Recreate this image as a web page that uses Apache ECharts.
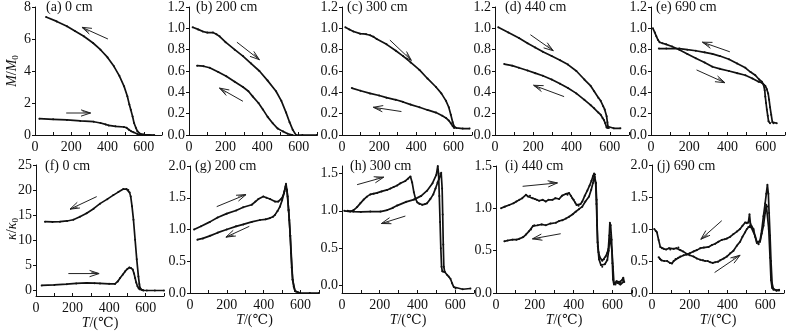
<!DOCTYPE html>
<html>
<head>
<meta charset="utf-8">
<script src="https://cdn.jsdelivr.net/npm/echarts@6/dist/echarts.min.js"></script>
<style>
html,body{margin:0;padding:0;background:#fff;}
#c{width:793px;height:332px;}
</style>
</head>
<body>
<div id="c"></div>
<script>
// ---------- data: [T (°C), value] ----------
const a_heat = [[24,1.02],[100,0.98],[176,0.94],[250,0.88],[324,0.83],[361,0.75],[390,0.66],[407,0.6],[444,0.54],[490,0.5],[505,0.45],[518,0.33],[530,0.24],[543,0.17],[565,0.06],[602,0.02],[657,0.0]];
const a_cool = [[61,7.37],[120,7.1],[176,6.8],[220,6.5],[269,6.17],[320,5.75],[361,5.33],[400,4.85],[435,4.29],[465,3.7],[491,3.04],[509,2.42],[520,1.9],[528,1.58],[538,1.15],[546,0.75],[556,0.45],[565,0.23],[583,0.06],[600,0.02]];
const b_heat = [[20,1.01],[50,0.99],[76,0.97],[100,0.96],[131,0.96],[150,0.945],[167,0.925],[200,0.87],[250,0.8],[295,0.74],[340,0.67],[385,0.6],[430,0.51],[476,0.41],[505,0.32],[531,0.21],[550,0.12],[567,0.05],[585,0.0],[620,0.0],[700,0.0]];
const b_cool = [[44,0.65],[80,0.645],[113,0.63],[160,0.59],[204,0.55],[250,0.5],[295,0.45],[325,0.41],[349,0.36],[380,0.3],[404,0.24],[430,0.17],[458,0.11],[485,0.06],[513,0.034],[540,0.012],[567,0.0]];
const c_heat = [[18,1.01],[40,0.99],[62,0.97],[98,0.95],[130,0.945],[151,0.935],[170,0.92],[187,0.9],[240,0.85],[290,0.79],[329,0.74],[370,0.68],[417,0.61],[460,0.53],[506,0.45],[535,0.39],[560,0.32],[575,0.26],[586,0.19],[596,0.12],[604,0.08],[616,0.066],[650,0.06],[687,0.06]];
const c_cool = [[53,0.44],[100,0.415],[151,0.39],[200,0.37],[240,0.35],[290,0.33],[329,0.31],[370,0.285],[417,0.26],[460,0.235],[506,0.21],[540,0.18],[560,0.16],[575,0.135],[586,0.11],[596,0.085],[604,0.066]];
const d_heat = [[17,1.01],[70,0.96],[125,0.91],[170,0.86],[210,0.82],[250,0.78],[296,0.74],[340,0.7],[381,0.66],[425,0.6],[467,0.52],[500,0.46],[518,0.41],[540,0.35],[552,0.32],[565,0.27],[573,0.24],[583,0.175],[587,0.12],[590,0.08],[595,0.066],[620,0.063],[655,0.063]];
const d_cool = [[48,0.665],[90,0.65],[125,0.63],[170,0.605],[210,0.58],[250,0.555],[296,0.52],[340,0.48],[381,0.44],[425,0.39],[467,0.33],[500,0.28],[518,0.25],[540,0.21],[552,0.19],[562,0.16],[569,0.14],[576,0.11],[583,0.07],[590,0.066]];
const e_heat = [[10,1.0],[20,0.96],[28,0.925],[37,0.89],[45,0.87],[60,0.86],[79,0.85],[110,0.83],[148,0.8],[190,0.76],[234,0.72],[280,0.68],[321,0.64],[360,0.62],[407,0.6],[450,0.58],[493,0.56],[530,0.53],[562,0.5],[579,0.49],[597,0.46],[605,0.43],[612,0.39],[617,0.33],[622,0.26],[628,0.19],[634,0.12],[640,0.11],[657,0.11]];
const e_cool = [[41,0.81],[80,0.81],[148,0.81],[190,0.8],[234,0.79],[280,0.775],[321,0.76],[360,0.74],[407,0.71],[450,0.67],[493,0.63],[520,0.59],[545,0.56],[565,0.52],[579,0.5],[588,0.47],[594,0.42],[597,0.36],[601,0.3],[605,0.24],[610,0.18],[614,0.13],[622,0.11]];
const f_heat = [[31,1.0],[100,1.1],[168,1.26],[220,1.4],[277,1.5],[320,1.45],[350,1.4],[400,1.32],[432,1.3],[447,1.8],[460,2.5],[475,3.2],[487,3.8],[500,4.3],[511,4.6],[520,4.5],[529,4.2],[536,3.4],[542,2.5],[548,1.6],[555,0.86],[562,0.4],[569,0.2],[585,0.05],[606,0.0],[650,0.0],[700,0.0]];
const f_cool = [[49,13.7],[90,13.65],[131,13.7],[170,13.85],[204,14.1],[240,14.7],[277,15.4],[315,16.3],[350,17.3],[390,18.2],[423,19.0],[450,19.6],[478,20.2],[495,20.2],[505,20.0],[512,19.5],[518,18.7],[525,16.8],[533,14.1],[542,10.1],[551,6.2],[560,2.8],[565,1.3],[569,0.5],[580,0.1],[588,0.0]];
const g_heat = [[22,1.0],[60,1.05],[108,1.12],[150,1.19],[199,1.25],[250,1.3],[289,1.35],[335,1.39],[355,1.44],[371,1.48],[398,1.52],[415,1.5],[434,1.48],[461,1.44],[479,1.44],[497,1.49],[505,1.53],[512,1.6],[521,1.72],[526,1.62],[530,1.52],[535,1.3],[539,1.15],[544,0.9],[548,0.63],[552,0.4],[557,0.21],[563,0.1],[570,0.03],[597,0.0],[650,0.0],[700,0.0]];
const g_cool = [[40,0.84],[70,0.86],[108,0.9],[150,0.95],[199,1.0],[250,1.05],[289,1.08],[335,1.12],[380,1.15],[410,1.16],[434,1.18],[450,1.2],[461,1.23],[475,1.29],[488,1.36],[500,1.46],[510,1.57],[519,1.68],[526,1.62],[535,1.31],[544,0.9],[557,0.21],[570,0.03],[597,0.0]];
const h_heat = [[12,1.0],[44,0.99],[62,1.01],[80,1.05],[97,1.1],[115,1.15],[132,1.19],[150,1.22],[168,1.23],[186,1.24],[210,1.26],[239,1.28],[257,1.3],[274,1.32],[292,1.34],[310,1.37],[336,1.4],[350,1.43],[363,1.46],[372,1.38],[381,1.25],[390,1.16],[400,1.11],[410,1.09],[425,1.08],[440,1.09],[451,1.1],[469,1.16],[484,1.22],[496,1.3],[507,1.38],[515,1.43],[526,1.51],[531,1.3],[534,0.95],[537,0.55],[540,0.25],[545,0.18],[558,0.14],[566,0.12],[575,0.09],[584,0.03],[593,-0.02],[602,-0.04],[640,-0.05],[681,-0.04]];
const h_cool = [[30,1.0],[60,0.99],[100,0.985],[150,0.99],[204,0.99],[240,1.01],[270,1.04],[292,1.07],[340,1.12],[381,1.15],[420,1.2],[451,1.27],[480,1.37],[500,1.48],[508,1.6],[512,1.5],[516,1.2],[520,0.85],[524,0.5],[528,0.25],[532,0.19],[545,0.18]];
const i_heat = [[26,1.0],[45,1.02],[68,1.04],[90,1.06],[105,1.08],[120,1.1],[135,1.12],[154,1.16],[165,1.14],[175,1.15],[188,1.12],[200,1.11],[210,1.1],[222,1.09],[240,1.1],[256,1.08],[270,1.1],[291,1.1],[305,1.12],[325,1.11],[340,1.15],[359,1.17],[368,1.16],[376,1.18],[385,1.15],[393,1.12],[400,1.1],[407,1.07],[415,1.04],[425,1.03],[435,1.05],[444,1.08],[457,1.15],[470,1.21],[482,1.27],[492,1.33],[499,1.38],[505,1.41],[510,1.4],[514,1.3],[518,1.1],[520,0.86],[523,0.6],[528,0.48],[535,0.42],[547,0.38],[556,0.4],[564,0.43],[572,0.47],[578,0.52],[583,0.68],[586,0.83],[590,0.8],[595,0.63],[599,0.35],[602,0.16],[607,0.1],[612,0.11],[620,0.14],[628,0.12],[635,0.13],[641,0.12],[648,0.15],[655,0.18],[660,0.13]];
const i_cool = [[43,0.61],[60,0.62],[85,0.63],[105,0.63],[120,0.64],[140,0.66],[154,0.69],[170,0.73],[180,0.75],[190,0.79],[197,0.8],[215,0.8],[235,0.81],[256,0.8],[280,0.82],[308,0.83],[325,0.85],[342,0.86],[360,0.88],[376,0.9],[395,0.93],[410,0.96],[427,0.99],[444,1.02],[460,1.08],[479,1.14],[490,1.22],[499,1.3],[505,1.36],[509,1.37],[513,1.3],[517,1.05],[520,0.8],[524,0.55],[530,0.4],[540,0.33],[547,0.31],[560,0.34],[573,0.39],[580,0.5],[586,0.67],[592,0.69],[597,0.5],[602,0.31],[607,0.12],[615,0.1],[625,0.12],[640,0.1],[655,0.13]];
const j_heat = [[12,1.0],[20,0.97],[26,0.95],[35,0.83],[44,0.72],[53,0.7],[62,0.69],[75,0.68],[90,0.7],[97,0.68],[115,0.69],[130,0.7],[140,0.71],[150,0.67],[165,0.65],[185,0.61],[200,0.59],[220,0.57],[238,0.54],[256,0.52],[270,0.51],[282,0.5],[295,0.5],[309,0.48],[322,0.47],[335,0.48],[350,0.49],[362,0.51],[380,0.54],[397,0.57],[415,0.62],[432,0.66],[450,0.74],[467,0.8],[480,0.88],[494,0.95],[503,1.0],[511,1.03],[520,1.05],[529,1.01],[538,0.98],[547,0.89],[556,0.8],[565,0.77],[573,0.8],[582,0.93],[591,1.05],[600,1.25],[606,1.38],[612,1.35],[619,1.0],[626,0.55],[631,0.2],[637,0.08],[644,0.05],[660,0.04],[674,0.05]];
const j_cool = [[35,0.56],[42,0.53],[50,0.51],[65,0.5],[80,0.5],[95,0.47],[106,0.46],[115,0.5],[125,0.53],[140,0.55],[150,0.57],[168,0.59],[185,0.6],[200,0.62],[220,0.65],[238,0.67],[256,0.7],[275,0.71],[300,0.72],[318,0.75],[335,0.77],[352,0.8],[370,0.83],[385,0.84],[397,0.85],[415,0.88],[432,0.92],[450,0.96],[467,1.0],[480,1.05],[494,1.1],[503,1.09],[511,1.1],[517,1.23],[522,1.08],[529,1.04],[538,1.0],[547,0.88],[556,0.78],[565,0.76],[573,0.82],[582,0.98],[591,1.2],[600,1.4],[606,1.55],[612,1.69],[617,1.55],[621,1.25],[626,0.9],[631,0.5],[637,0.15],[644,0.06],[660,0.04],[674,0.04]];

// arrows: [T start, value start, T end, value end]
const a_arrows = [[402,6.0,259,6.73],[172,1.375,306,1.375]];
const b_arrows = [[262,0.87,385,0.706],[295,0.316,167,0.44]];
const c_arrows = [[258,0.89,373,0.70],[320,0.22,169,0.26]];
const d_arrows = [[185,0.94,304,0.79],[361,0.36,202,0.466]];
const e_arrows = [[412,0.78,269,0.87],[238,0.61,386,0.49]];
const f_arrows = [[332,18.7,186,16.2],[177,3.37,345,3.37]];
const g_arrows = [[145,1.36,304,1.55],[322,1.05,195,0.88]];
const h_arrows = [[80,1.35,221,1.45],[336,0.93,209,0.83]];
const i_arrows = [[137,1.26,316,1.30],[333,0.70,188,0.64]];
const j_arrows = [[370,1.13,259,0.84],[332,0.32,467,0.59]];

// panel titles and tick labels
const titles = ['(a) 0 cm','(b) 200 cm','(c) 300 cm','(d) 440 cm','(e) 690 cm','(f) 0 cm','(g) 200 cm','(h) 300 cm','(i) 440 cm','(j) 690 cm'];
const xTicks = [0,200,400,600];
const yTicksA = [0,2,4,6,8];
const yTicksM = [0,0.2,0.4,0.6,0.8,1.0,1.2];
const yTicksF = [0,5,10,15,20,25];
const yTicksK = [0,0.5,1.0,1.5,2.0];
const yTicksH = [0,0.5,1.0,1.5];

// ---------- layout ----------
const FONT = '"Liberation Serif","Times New Roman","DejaVu Serif",serif';
const panels = [
  {grid:[35,7,127,128], tl:[46,0], ymin:0, ymax:8, yt:yTicksA, dec:0, heat:a_heat, cool:a_cool, arr:a_arrows},
  {grid:[189,7,128,128], tl:[196,0], ymin:0, ymax:1.2, yt:yTicksM, dec:1, heat:b_heat, cool:b_cool, arr:b_arrows},
  {grid:[342,7,130,128], tl:[347,0], ymin:0, ymax:1.2, yt:yTicksM, dec:1, heat:c_heat, cool:c_cool, arr:c_arrows},
  {grid:[495,7,134,128], tl:[505,0], ymin:0, ymax:1.2, yt:yTicksM, dec:1, heat:d_heat, cool:d_cool, arr:d_arrows},
  {grid:[651,7,134,128], tl:[656,0], ymin:0, ymax:1.2, yt:yTicksM, dec:1, heat:e_heat, cool:e_cool, arr:e_arrows},
  {grid:[36,165,128,131], tl:[45,159], ymin:-1.1, ymax:25, yt:yTicksF, dec:0, heat:f_heat, cool:f_cool, arr:f_arrows, xname:true},
  {grid:[190,166,129,127], tl:[195,159], ymin:0, ymax:2.0, yt:yTicksK, dec:1, heat:g_heat, cool:g_cool, arr:g_arrows, xname:true},
  {grid:[342,166,132,127], tl:[350,159], ymin:-0.1, ymax:1.6, yt:yTicksH, dec:1, heat:h_heat, cool:h_cool, arr:h_arrows, xname:true},
  {grid:[496,166,136,127], tl:[505,159], ymin:0, ymax:1.5, yt:yTicksH, dec:1, heat:i_heat, cool:i_cool, arr:i_arrows, xname:true},
  {grid:[652,165,132,128], tl:[657,159], ymin:0, ymax:2.0, yt:yTicksK, dec:1, heat:j_heat, cool:j_cool, arr:j_arrows, xname:true}
];

const grid = [], xAxis = [], yAxis = [], series = [], title = [];
const INK = '#111';
function arrowRender(params, api) {
  const a = api.coord([api.value(0), api.value(1)]);
  const b = api.coord([api.value(2), api.value(3)]);
  const ang = Math.atan2(b[1]-a[1], b[0]-a[0]);
  const L = 10, w = 0.32;
  const h1 = [b[0]-L*Math.cos(ang-w), b[1]-L*Math.sin(ang-w)];
  const h2 = [b[0]-L*Math.cos(ang+w), b[1]-L*Math.sin(ang+w)];
  const h3 = [b[0]-L*0.8*Math.cos(ang+w*0.55), b[1]-L*0.8*Math.sin(ang+w*0.55)];
  return {type:'group', children:[
    {type:'line', shape:{x1:a[0],y1:a[1],x2:b[0],y2:b[1]}, style:{stroke:'#222', lineWidth:1}},
    {type:'polyline', shape:{points:[h1,b,h2]}, style:{stroke:'#222', lineWidth:1, fill:null}},
    {type:'line', shape:{x1:h3[0],y1:h3[1],x2:b[0],y2:b[1]}, style:{stroke:'#222', lineWidth:0.8}}
  ]};
}

panels.forEach((p, i) => {
  grid.push({left:p.grid[0], top:p.grid[1], width:p.grid[2], height:p.grid[3], containLabel:false});
  title.push({text:titles[i], left:p.tl[0], top:p.tl[1], padding:0,
    textStyle:{fontFamily:FONT, fontSize:14, fontWeight:'normal', color:INK}});
  const xa = {
    type:'value', gridIndex:i, min:0, max:700, interval:100,
    axisLine:{show:true, onZero:false, lineStyle:{color:INK, width:1}},
    axisTick:{show:true, inside:true, length:3, lineStyle:{color:INK}},
    splitLine:{show:false},
    axisLabel:{color:INK, fontFamily:FONT, fontSize:14, margin:5, customValues:xTicks,
      formatter:v => String(v)}
  };
  if (p.xname) {
    xa.name = '{i|T}/(℃)';
    xa.nameLocation = 'middle';
    xa.nameGap = 20;
    xa.nameTextStyle = {color:INK, fontFamily:FONT, fontSize:14, rich:{i:{fontStyle:'italic', fontFamily:FONT, fontSize:14, color:INK}}};
  }
  xAxis.push(xa);
  yAxis.push({
    type:'value', gridIndex:i, min:p.ymin, max:p.ymax,
    axisLine:{show:true, onZero:false, lineStyle:{color:INK, width:1}},
    axisTick:{show:true, inside:false, length:3, lineStyle:{color:INK}, customValues:p.yt},
    splitLine:{show:false},
    axisLabel:{color:INK, fontFamily:FONT, fontSize:14, margin:4, customValues:p.yt,
      formatter:v => Number(v).toFixed(p.dec)}
  });
  [p.heat, p.cool].forEach(d => {
    series.push({type:'line', xAxisIndex:i, yAxisIndex:i, data:d, smooth:false,
      symbol:'circle', symbolSize:2, showSymbol:true, showAllSymbol:true,
      itemStyle:{color:INK}, lineStyle:{color:INK, width:1.7}, animation:false, silent:true});
  });
  series.push({type:'custom', xAxisIndex:i, yAxisIndex:i, data:p.arr,
    encode:{x:[0,2], y:[1,3]}, renderItem:arrowRender, animation:false, silent:true, clip:false});
});

// rotated y-axis names (text only)
const nameRich = {i:{fontStyle:'italic', fontFamily:FONT, fontSize:14, fill:INK},
                  s:{fontFamily:FONT, fontSize:9, fill:INK, padding:[7,0,0,0]}};
const graphic = [
  {type:'text', x:12, y:71, rotation:Math.PI/2,
   style:{text:'{i|M}{n|/}{i|M}{s|0}', rich:Object.assign({n:{fontFamily:FONT,fontSize:14,fill:INK}}, nameRich), align:'center', verticalAlign:'middle'}},
  {type:'text', x:12, y:229, rotation:Math.PI/2,
   style:{text:'{i|κ}{n|/}{i|κ}{s|0}', rich:Object.assign({n:{fontFamily:FONT,fontSize:14,fill:INK}}, nameRich), align:'center', verticalAlign:'middle'}}
];

const chart = echarts.init(document.getElementById('c'), null, {renderer:'canvas'});
chart.setOption({backgroundColor:'#fff', animation:false, title, grid, xAxis, yAxis, series, graphic});
</script>
</body>
</html>
